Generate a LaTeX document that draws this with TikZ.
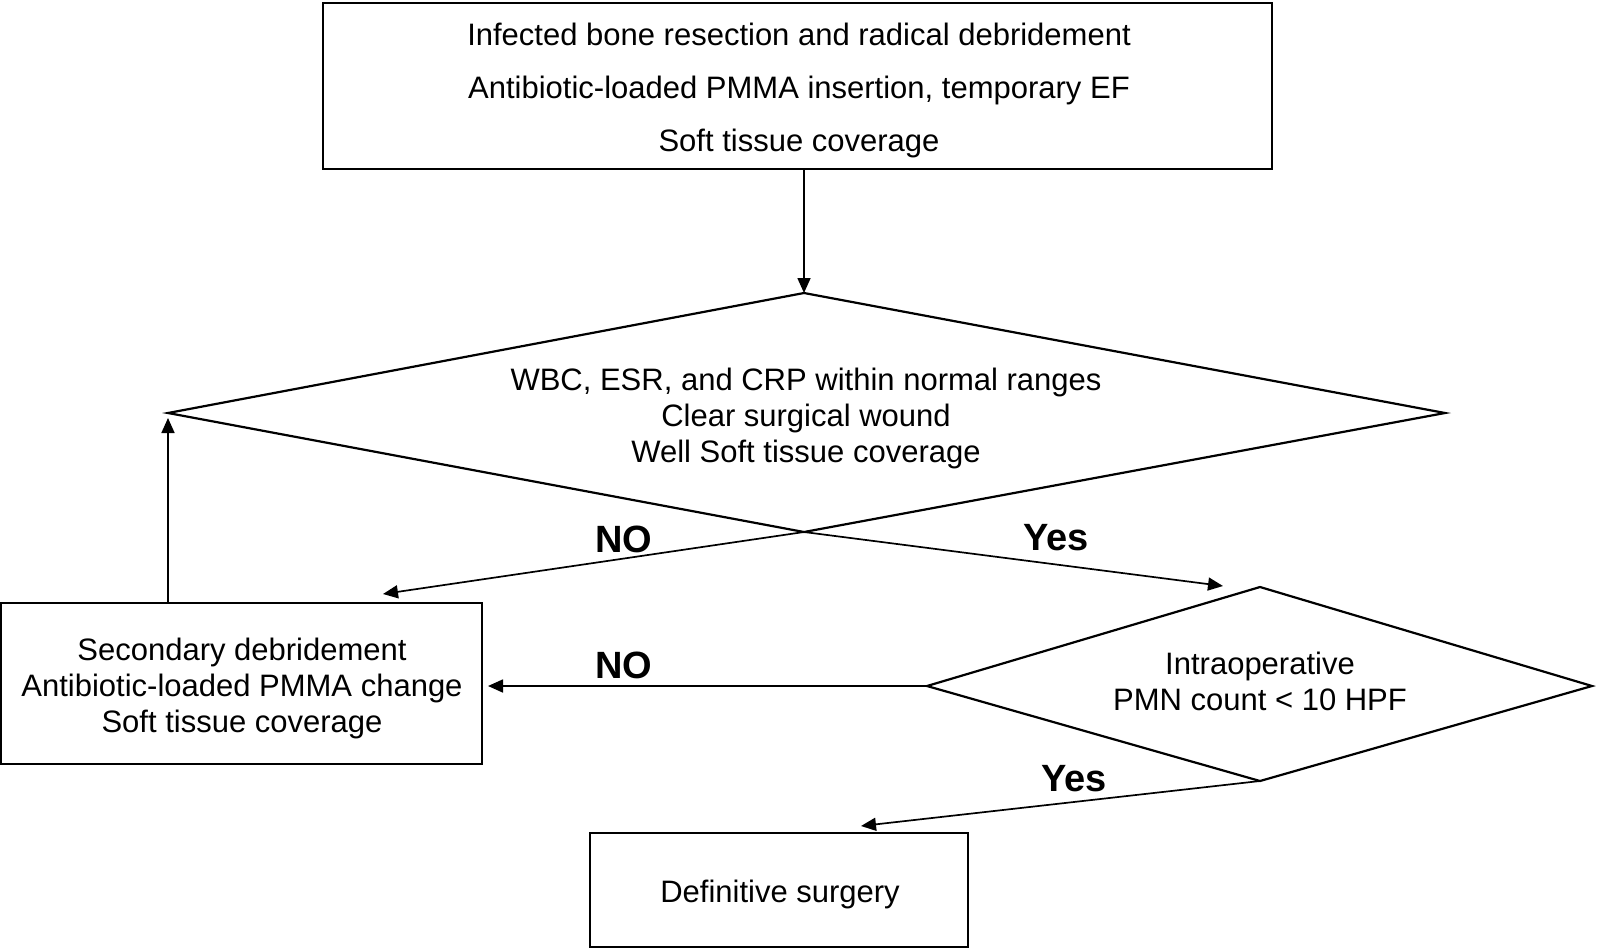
\documentclass[tikz,border=0pt]{standalone}
\usepackage{fontspec}
\setmainfont{Liberation Sans}
\usetikzlibrary{arrows.meta}
\tikzset{
  box/.style={draw, line width=2.2pt, rectangle, inner sep=0pt, outer sep=0pt},
  dia/.style={draw, line width=2.2pt, line join=miter},
  txt/.style={align=center, inner sep=0pt, font=\fontsize{31}{36}\selectfont},
  conn/.style={line width=1.7pt, -{Triangle[length=15pt,width=13pt]}},
  lab/.style={font=\bfseries\fontsize{38}{40}\selectfont, inner sep=0pt},
}
\begin{document}
\begin{tikzpicture}[x=1pt,y=-1pt]
\useasboundingbox (0,0) rectangle (1600,948);
% boxes
\node[box, minimum width=949pt, minimum height=166pt] (top) at (797.5,86) {};
\node[txt, font=\fontsize{31}{53}\selectfont] (toptxt) at (799,90.5)
  {Infected bone resection and radical debridement\\
   Antibiotic-loaded PMMA insertion, temporary EF\\
   Soft tissue coverage};
\node[box, minimum width=481pt, minimum height=161pt] (lbox) at (241.5,683.5) {};
\node[txt] (lboxtxt) at (242,688)
  {Secondary debridement\\Antibiotic-loaded PMMA change\\Soft tissue coverage};
\node[box, minimum width=378pt, minimum height=114pt] (bbox) at (779,890) {};
\node[txt] (bboxtxt) at (780,894) {Definitive surgery};
% big diamond
\coordinate (d1n) at (804,293);
\coordinate (d1s) at (804,532);
\coordinate (d1w) at (168,413);
\coordinate (d1e) at (1445,413);
\draw[dia] (d1n) -- (d1e) -- (d1s) -- (d1w) -- cycle;
\node[txt] (d1txt) at (806,418.5)
  {WBC, ESR, and CRP within normal ranges\\Clear surgical wound\\Well Soft tissue coverage};
% small diamond
\coordinate (d2n) at (1260,587);
\coordinate (d2s) at (1260,781);
\coordinate (d2w) at (927,686);
\coordinate (d2e) at (1592,686);
\draw[dia] (d2n) -- (d2e) -- (d2s) -- (d2w) -- cycle;
\node[txt] (d2txt) at (1260,681) {Intraoperative\\PMN count < 10 HPF};
% connectors
\coordinate (noend) at (383,594);
\coordinate (yesend) at (1223,586);
\coordinate (yes2end) at (861,826);
\draw[conn] (top.south -| d1n) -- (d1n);
\draw[conn] (d1s) -- (noend);
\draw[conn] (d1s) -- (yesend);
\draw[conn, shorten >=5pt] (lbox.north -| d1w) -- (d1w);
\draw[conn, shorten >=6pt] (d2w) -- (lbox.east |- d2w);
\draw[conn] (d2s) -- (yes2end);
% labels
\node[lab] (no1) at (624,539) {NO};
\node[lab] (yes1) at (1056,538) {Yes};
\node[lab] (no2) at (624,665) {NO};
\node[lab] (yes2) at (1074,779) {Yes};
\end{tikzpicture}
\end{document}
